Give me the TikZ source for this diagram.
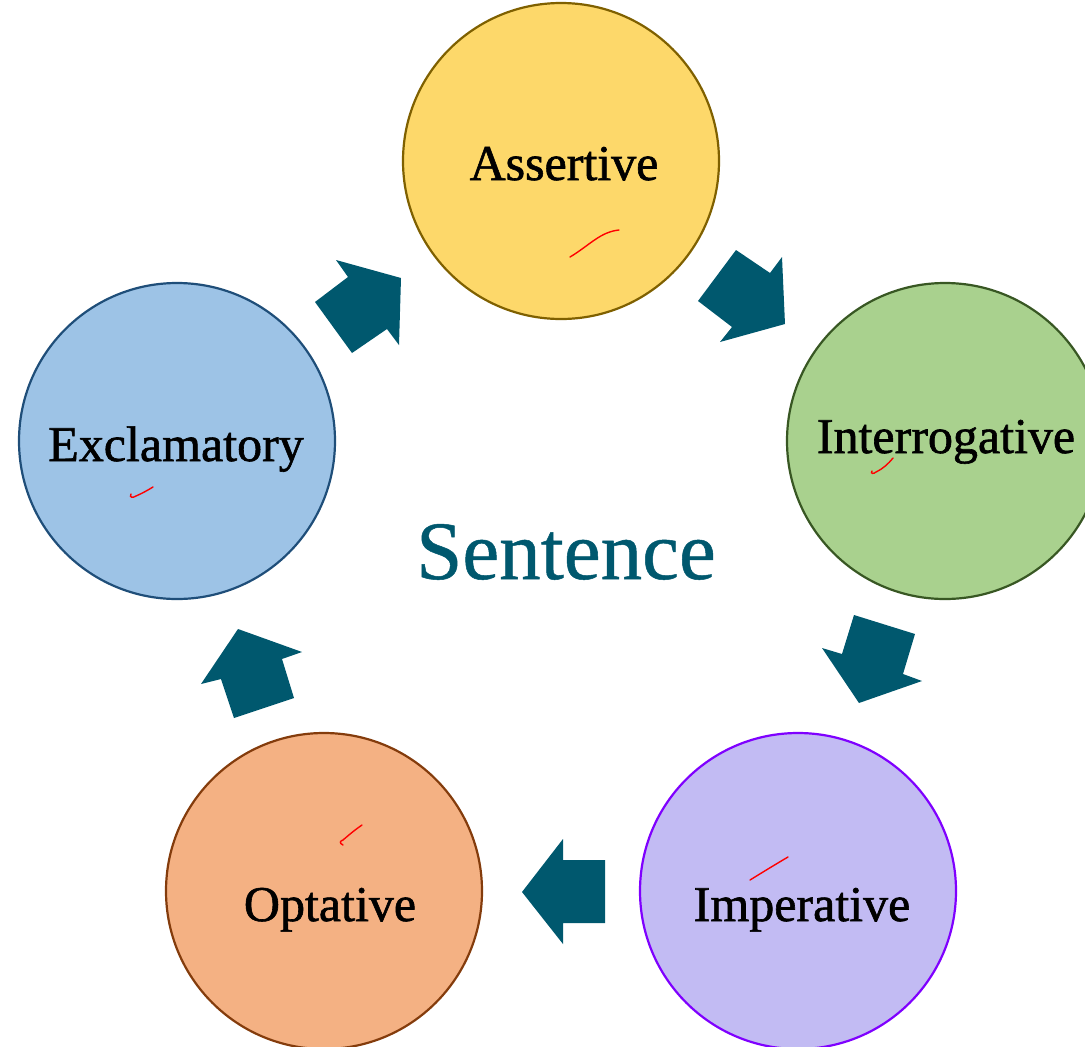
\documentclass[tikz,border=0pt]{standalone}
\usepackage{fontspec}
\setmainfont{Liberation Serif}
\newfontfamily\lblfont[FakeBold=1.2]{Liberation Serif}
\newfontfamily\ttlfont[FakeBold=0.6]{Liberation Serif}
\definecolor{teal}{HTML}{00586E}
\definecolor{afill}{HTML}{FDD86A}
\definecolor{aline}{HTML}{7F6000}
\definecolor{ifill}{HTML}{A9D18E}
\definecolor{iline}{HTML}{385723}
\definecolor{mfill}{HTML}{C2BBF3}
\definecolor{mline}{HTML}{7F00FF}
\definecolor{ofill}{HTML}{F4B183}
\definecolor{oline}{HTML}{843C0C}
\definecolor{efill}{HTML}{9DC3E6}
\definecolor{eline}{HTML}{1F4E79}
\begin{document}
\begin{tikzpicture}[x=1pt,y=-1pt,
  bubble/.style={circle, minimum size=316pt, inner sep=0pt, line width=2.2pt},
  lbl/.style={font=\lblfont\fontsize{50}{60}\selectfont, text=black, inner sep=0pt, anchor=base},
  blockarrow/.style={fill=teal, draw=none},
  tick/.style={draw=red, line width=1.4pt, line cap=round}]
\useasboundingbox (0,0) rectangle (1085,1047);
% circles
\node[bubble, draw=aline, fill=afill] (A) at (561,161) {};
\node[bubble, draw=iline, fill=ifill] (I) at (945,441) {};
\node[bubble, draw=mline, fill=mfill] (M) at (798,891) {};
\node[bubble, draw=oline, fill=ofill] (O) at (324,891) {};
\node[bubble, draw=eline, fill=efill] (E) at (177,441) {};
% labels
\node[lbl] (At) at (564,180) {Assertive};
\node[lbl] (It) at (946,453) {Interrogative};
\node[lbl] (Mt) at (802,921) {Imperative};
\node[lbl] (Ot) at (330,921) {Optative};
\node[lbl] (Et) at (176,461) {Exclamatory};
\node[font=\ttlfont\fontsize{83}{100}\selectfont, text=teal, inner sep=0pt, anchor=base] (S) at (566,579) {Sentence};
% block arrows
\fill[blockarrow] (315,302) -- (348,277) -- (336,260) -- (401,278) -- (399,345) -- (387,329) -- (352,353) -- cycle;
\fill[blockarrow] (736,250) -- (770,273) -- (782,257) -- (785,324) -- (720,342) -- (732,327) -- (698,301) -- cycle;
\fill[blockarrow] (854,615) -- (915,634) -- (903,674) -- (922,681) -- (859,703) -- (822,648) -- (842,654) -- cycle;
\fill[blockarrow] (605,860) -- (563,860) -- (563,839) -- (522,892) -- (563,944) -- (563,923) -- (605,923) -- cycle;
\fill[blockarrow] (238,629) -- (302,652) -- (282,659) -- (294,698) -- (234,718) -- (221,679) -- (201,684) -- cycle;
% red marks
\draw[tick] (570,257) .. controls (590,245) and (600,232) .. (619,230);
\draw[tick] (872,471) .. controls (870,474) and (874,474) .. (876,472) .. controls (884,468) and (888,464) .. (893,458);
\draw[tick] (131,494) .. controls (129,498) and (133,498) .. (136,496) .. controls (143,493) and (148,490) .. (153,487);
\draw[tick] (343,845) .. controls (339,843) and (340,841) .. (343,840) .. controls (350,834) and (356,829) .. (362,825);
\draw[tick] (750,880) .. controls (763,872) and (776,864) .. (788,857);
\end{tikzpicture}
\end{document}
